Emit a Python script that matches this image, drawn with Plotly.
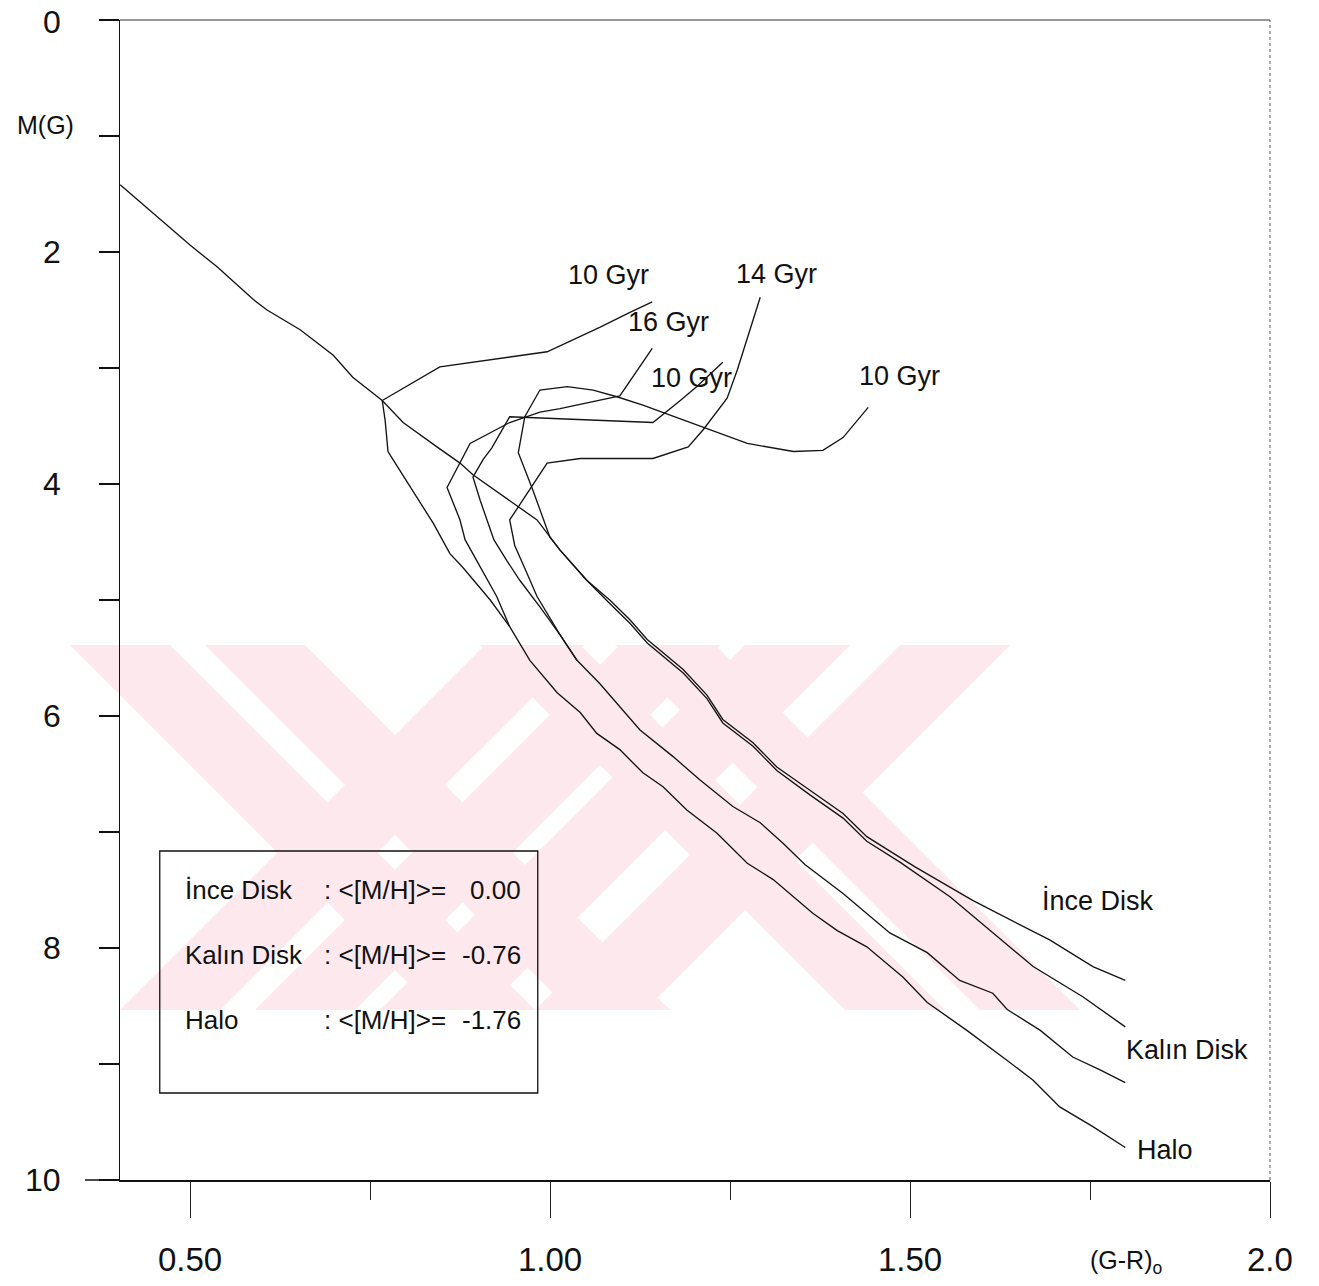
import plotly.graph_objects as go

# ---------------- data ----------------
# line starting at the upper left (ZAMS-like) continuing into the lower of the thin-disk pair
zams_x = [0.403, 0.444, 0.500, 0.538, 0.565, 0.588, 0.607, 0.653, 0.699, 0.726, 0.767, 0.796,
          0.843, 0.875, 0.893, 0.944, 0.982, 1.014, 1.051, 1.083, 1.111, 1.135, 1.185, 1.218,
          1.240, 1.282, 1.315, 1.361, 1.407, 1.440, 1.486, 1.556, 1.615, 1.671, 1.740, 1.799]
zams_y = [1.42, 1.64, 1.94, 2.13, 2.28, 2.41, 2.50, 2.67, 2.89, 3.08, 3.28, 3.47,
          3.68, 3.82, 3.92, 4.14, 4.31, 4.57, 4.83, 5.03, 5.20, 5.37, 5.63, 5.85,
          6.06, 6.26, 6.47, 6.68, 6.88, 7.08, 7.26, 7.56, 7.87, 8.16, 8.42, 8.68]

# Ince Disk 10 Gyr isochrone
ince10_x = [1.442, 1.407, 1.379, 1.338, 1.274, 1.213, 1.185, 1.129, 1.094, 1.060, 1.024, 0.986,
            0.965, 0.956, 0.976, 1.000, 1.014, 1.051, 1.083, 1.111, 1.135, 1.185, 1.218, 1.240,
            1.282, 1.315, 1.361, 1.407, 1.440, 1.507, 1.587, 1.694, 1.754, 1.799]
ince10_y = [3.34, 3.60, 3.71, 3.72, 3.65, 3.51, 3.45, 3.32, 3.25, 3.19, 3.16, 3.19,
            3.42, 3.73, 4.05, 4.46, 4.57, 4.83, 5.00, 5.17, 5.34, 5.60, 5.82, 6.03,
            6.23, 6.44, 6.64, 6.84, 7.04, 7.30, 7.59, 7.93, 8.16, 8.28]

# Kalin Disk isochrones (10 and 14 Gyr) and their common main sequence
kalin10_x = [1.240, 1.204, 1.181, 1.143, 0.944, 0.919, 0.907, 0.893, 0.903, 0.913, 0.922,
             0.940, 0.958, 0.986, 1.014, 1.0375]
kalin10_y = [2.95, 3.16, 3.28, 3.47, 3.42, 3.69, 3.79, 3.94, 4.14, 4.31, 4.48,
             4.66, 4.83, 5.06, 5.30, 5.52]
kalin14_x = [1.292, 1.260, 1.246, 1.213, 1.192, 1.143, 1.042, 0.996, 0.944, 0.949, 0.951,
             0.968, 0.982, 1.014, 1.0375]
kalin14_y = [2.39, 3.02, 3.26, 3.53, 3.68, 3.78, 3.78, 3.82, 4.31, 4.46, 4.53,
             4.77, 4.97, 5.30, 5.52]
kalin_ms_x = [1.0375, 1.069, 1.125, 1.171, 1.208, 1.254, 1.292, 1.324, 1.354, 1.407, 1.472,
              1.524, 1.569, 1.615, 1.635, 1.681, 1.726, 1.764, 1.799]
kalin_ms_y = [5.52, 5.72, 6.12, 6.35, 6.55, 6.78, 6.92, 7.10, 7.28, 7.53, 7.87,
              8.04, 8.28, 8.39, 8.53, 8.71, 8.94, 9.05, 9.16]

# Halo isochrones (10 and 16 Gyr) and their common main sequence
halo10_x = [1.142, 1.111, 1.069, 0.996, 0.847, 0.767, 0.771, 0.775, 0.782, 0.806, 0.838,
            0.861, 0.879, 0.917, 0.944]
halo10_y = [2.43, 2.52, 2.65, 2.86, 2.99, 3.28, 3.45, 3.72, 3.79, 4.03, 4.34,
            4.60, 4.72, 5.00, 5.23]
halo16_x = [1.142, 1.097, 1.014, 0.986, 0.944, 0.903, 0.889, 0.857, 0.875, 0.882, 0.903,
            0.926, 0.944]
halo16_y = [2.83, 3.24, 3.35, 3.38, 3.47, 3.60, 3.65, 4.03, 4.31, 4.48, 4.72,
            4.97, 5.23]
halo_ms_x = [0.944, 0.972, 1.010, 1.042, 1.065, 1.097, 1.129, 1.157, 1.190, 1.232, 1.274,
             1.310, 1.365, 1.399, 1.440, 1.490, 1.524, 1.579, 1.635, 1.671, 1.708, 1.754, 1.799]
halo_ms_y = [5.23, 5.52, 5.80, 5.97, 6.15, 6.29, 6.49, 6.61, 6.81, 7.01, 7.27,
             7.41, 7.70, 7.85, 7.99, 8.25, 8.47, 8.71, 8.97, 9.14, 9.37, 9.54, 9.72]

# curve labels
label_text = ["10 Gyr", "16 Gyr", "14 Gyr", "10 Gyr", "10 Gyr", "İnce Disk", "Kalın Disk", "Halo"]
label_x = [1.081, 1.164, 1.314, 1.197, 1.486, 1.761, 1.885, 1.854]
label_y = [2.20, 2.60, 2.19, 3.09, 3.07, 7.59, 8.88, 9.74]

# legend box text
legend_names = ["İnce Disk", "Kalın Disk", "Halo"]
legend_mh = ["0.00", "-0.76", "-1.76"]

# axis ticks
x_major = [0.5, 1.0, 1.5, 2.0]
x_major_text = ["0.50", "1.00", "1.50", "2.0"]
x_minor = [0.75, 1.25, 1.75]
y_ticks = list(range(0, 11))
y_label_vals = [0, 2, 4, 6, 8, 10]

# ---------------- figure ----------------
FONT = "Liberation Sans, Arial, sans-serif"
LINE = dict(color="#141414", width=1.35)

fig = go.Figure()
for xs, ys in [(zams_x, zams_y), (ince10_x, ince10_y), (kalin10_x, kalin10_y),
               (kalin14_x, kalin14_y), (kalin_ms_x, kalin_ms_y), (halo10_x, halo10_y),
               (halo16_x, halo16_y), (halo_ms_x, halo_ms_y)]:
    fig.add_trace(go.Scatter(x=xs, y=ys, mode="lines", line=LINE,
                             showlegend=False, hoverinfo="skip"))

ann = []
for t, x, y in zip(label_text, label_x, label_y):
    ann.append(dict(x=x, y=y, text=t, showarrow=False, xref="x", yref="y",
                    font=dict(family=FONT, size=27, color="#111")))

# legend box contents
row_y = [7.50, 8.06, 8.62]
for name, mh, y in zip(legend_names, legend_mh, row_y):
    ann.append(dict(x=0.490, y=y, text=name, showarrow=False, xanchor="left",
                    font=dict(family=FONT, size=26, color="#111")))
    ann.append(dict(x=0.683, y=y, text=": <[M/H]>=", showarrow=False, xanchor="left",
                    font=dict(family=FONT, size=26, color="#111")))
    ann.append(dict(x=0.9625, y=y, text=mh, showarrow=False, xanchor="right",
                    font=dict(family=FONT, size=26, color="#111")))

# tick labels
for v, t in zip(x_major, x_major_text):
    ann.append(dict(x=v, y=0, xref="x", yref="paper", yanchor="middle", yshift=-79,
                    text=t, showarrow=False, font=dict(family=FONT, size=33, color="#111")))
for v in y_label_vals:
    ann.append(dict(x=0, y=v, xref="paper", yref="y", xanchor="right", xshift=-57,
                    yshift=-2 if v == 0 else 0,
                    text=str(v), showarrow=False, font=dict(family=FONT, size=32, color="#111")))
ann.append(dict(x=0, y=0.905, xref="paper", yref="y", xanchor="center", xshift=-75,
                text="M(G)", showarrow=False, font=dict(family=FONT, size=25, color="#111")))
ann.append(dict(x=1.747, y=0, xref="x", yref="paper", xanchor="left", yanchor="middle",
                yshift=-82, text="(G-R)<sub>o</sub>", showarrow=False,
                font=dict(family=FONT, size=25, color="#111")))

# ---------------- faint pink watermark (decoration behind the plot, paper coords) ----------------
def _p(px, py):
    return (px - 120) / 1150.0, (1180 - py) / 1160.0

WM_TOP, WM_BOT = 645, 1010
back_bands = [(340, 440), (475, 575), (-70, 30), (65, 165)]            # "\" stripes
fwd_bands = [(1130, 1230), (1265, 1365), (1390, 1495), (1545, 1655)]   # "/" stripes
wm_shapes = []
for c1, c2 in back_bands:
    pts = [(WM_TOP - c2, WM_TOP), (WM_TOP - c1, WM_TOP), (WM_BOT - c1, WM_BOT), (WM_BOT - c2, WM_BOT)]
    path = "M " + " L ".join("%.4f,%.4f" % _p(*p) for p in pts) + " Z"
    wm_shapes.append(dict(type="path", xref="paper", yref="paper", path=path, layer="below",
                          fillcolor="#fde9ed", line=dict(width=0)))
for d1, d2 in fwd_bands:
    pts = [(d1 - WM_TOP, WM_TOP), (d2 - WM_TOP, WM_TOP), (d2 - WM_BOT, WM_BOT), (d1 - WM_BOT, WM_BOT)]
    path = "M " + " L ".join("%.4f,%.4f" % _p(*p) for p in pts) + " Z"
    wm_shapes.append(dict(type="path", xref="paper", yref="paper", path=path, layer="below",
                          fillcolor="#fde9ed", line=dict(width=0)))

shapes = wm_shapes + [
    # legend box
    dict(type="rect", xref="x", yref="y", x0=0.458, x1=0.983, y0=7.164, y1=9.25,
         line=dict(color="#111", width=1.3), fillcolor="rgba(0,0,0,0)"),
    # top border
    dict(type="line", xref="paper", yref="paper", x0=0, x1=1, y0=1, y1=1,
         line=dict(color="#333", width=1.2)),
    # right border (broken)
    dict(type="line", xref="paper", yref="paper", x0=1, x1=1, y0=0, y1=1,
         line=dict(color="#555", width=1, dash="dot")),
    # bottom axis line running a little past the left axis
    dict(type="line", xref="paper", yref="paper", x0=-35 / 1150.0, x1=0, y0=0, y1=0,
         line=dict(color="#111", width=1.5)),
]

fig.update_layout(
    width=1319, height=1286,
    margin=dict(l=120, r=49, t=20, b=106),
    paper_bgcolor="white", plot_bgcolor="white",
    annotations=ann, shapes=shapes,
    xaxis=dict(range=[0.40278, 2.0], autorange=False, showgrid=False, zeroline=False,
               showline=True, linecolor="#111", linewidth=1.5,
               tickmode="array", tickvals=x_major, showticklabels=False,
               ticks="outside", ticklen=36, tickwidth=1, tickcolor="#222",
               minor=dict(tickmode="array", tickvals=x_minor, ticks="outside",
                          ticklen=18, tickwidth=1, tickcolor="#222", showgrid=False)),
    yaxis=dict(range=[10, 0], autorange=False, showgrid=False, zeroline=False,
               showline=True, linecolor="#111", linewidth=1.5,
               tickmode="array", tickvals=y_ticks, showticklabels=False,
               ticks="outside", ticklen=20, tickwidth=1.5, tickcolor="#111"),
)

fig.write_html("out.html", config={"displayModeBar": False, "staticPlot": True},
               post_script="document.body.style.margin='0';document.body.style.overflow='hidden';")
